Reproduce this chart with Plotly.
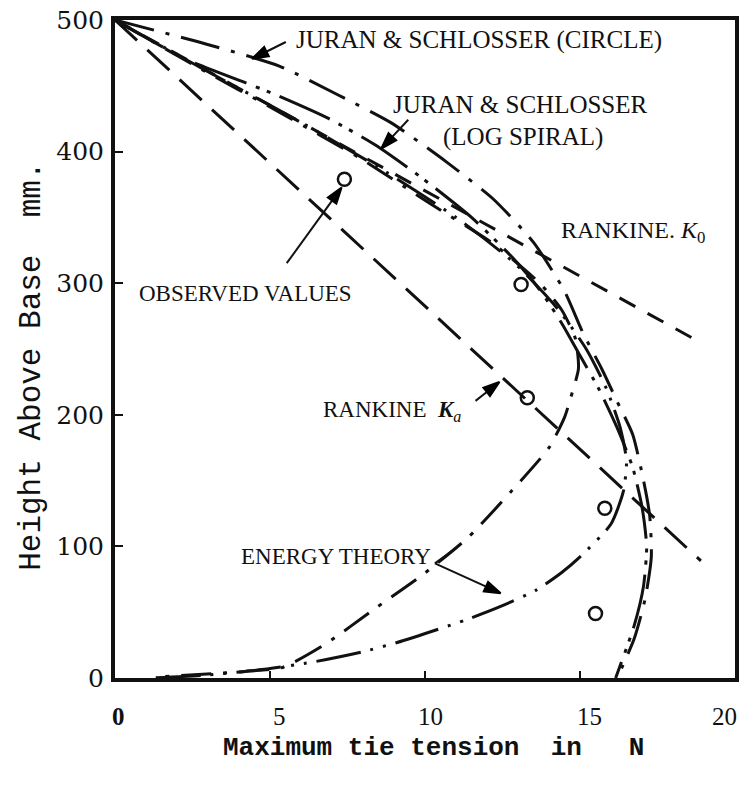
import plotly.graph_objects as go

# ---- data -------------------------------------------------------------
# Rankine lines (tension in N against height above base in mm)
ka_x = [0, 18.9]
ka_y = [500, 89]
k0_x = [0, 18.65]
k0_y = [500, 258]

# Juran & Schlosser, circular failure surface
circle_x = [0, 2.9, 5.3, 7.2, 8.9, 10.7, 12.2, 13.5, 14.5, 15.1, 15.7, 16.2, 16.7, 17.05, 17.25, 17.3, 17.1, 16.75, 16.2]
circle_y = [500, 482, 465, 443, 422, 392, 364, 331, 294, 262, 235, 210, 185, 150, 123, 92, 60, 30, 0]

# Juran & Schlosser, log-spiral failure surface
spiral_x = [0, 2.3, 5.0, 6.9, 8.4, 9.9, 11.5, 12.8, 13.7, 14.4, 15.0, 15.6, 16.2, 16.7, 17.0, 17.15, 17.05, 16.75, 16.15]
spiral_y = [500, 470, 445, 425, 405, 380, 350, 320, 295, 270, 245, 220, 190, 160, 130, 100, 70, 40, 0]

# Energy theory, two cases
energy_a_x = [0, 2.6, 5.3, 7.9, 10.2, 12.2, 13.7, 14.4, 14.85, 14.95, 14.7, 14.5, 14.0, 12.75, 11.4, 9.9, 8.4, 6.8, 5.4, 4.2, 1.5]
energy_a_y = [500, 465, 430, 395, 360, 330, 300, 280, 258, 235, 213, 198, 175, 141, 107, 78, 53, 26, 8, 5, 1]
energy_b_x = [0, 2.9, 5.8, 8.5, 11.0, 12.9, 14.3, 15.2, 15.85, 16.3, 16.5, 16.4, 16.0, 15.0, 14.4, 13.6, 12.4, 11.3, 9.1, 8.0, 6.35, 4.6, 2.8, 1.2]
energy_b_y = [500, 462, 425, 388, 350, 315, 280, 250, 220, 190, 165, 142, 117, 92, 80, 67, 54, 44, 27, 20, 12, 6, 2, 0]

# Measured maximum tie tensions
obs_x = [7.4, 13.1, 13.3, 15.8, 15.5]
obs_y = [379, 299, 213, 129, 49]

y_ticks = [0, 100, 200, 300, 400, 500]
x_ticks = [0, 5, 10, 15, 20]
x_tick_text = ["<b>0</b>", "5", "10", "15", "20"]

INK = "#111111"
SERIF = "Liberation Serif, Times New Roman, serif"
MONO = "Liberation Mono, DejaVu Sans Mono, monospace"

fig = go.Figure()


def add_curve(xs, ys, dash, width=3.0, spline=True):
    fig.add_trace(go.Scatter(
        x=xs, y=ys, mode="lines",
        line=dict(color=INK, width=width, dash=dash,
                  shape="spline" if spline else "linear", smoothing=0.6),
        hoverinfo="skip", showlegend=False, cliponaxis=True,
    ))


add_curve(ka_x, ka_y, "30px,14px", spline=False)
add_curve(k0_x, k0_y, "18px,14px", spline=False)
add_curve(circle_x, circle_y, "40px,12px,4px,12px")
add_curve(spiral_x, spiral_y, "55px,10px,4px,8px,4px,10px")
add_curve(energy_a_x, energy_a_y, "30px,12px,4px,12px")
add_curve(energy_b_x, energy_b_y, "45px,10px,3px,10px,3px,10px")

fig.add_trace(go.Scatter(
    x=obs_x, y=obs_y, mode="markers",
    marker=dict(symbol="circle-open", size=13, color=INK, line=dict(width=2.5, color=INK)),
    hoverinfo="skip", showlegend=False, cliponaxis=False,
))


def pointer(tail, tip, head=True):
    # leader line from a label to a curve, with an arrowhead at the curve end
    fig.add_trace(go.Scatter(
        x=[tail[0], tip[0]], y=[tail[1], tip[1]], mode="lines+markers",
        line=dict(color=INK, width=2),
        marker=dict(symbol="arrow", size=[0, 17 if head else 0], angleref="previous",
                    color="black", opacity=1, line=dict(width=2, color="black")),
        hoverinfo="skip", showlegend=False, cliponaxis=False,
    ))


pointer((5.51, 483.3), (4.42, 470.5))
pointer((9.46, 424.2), (8.59, 402.3))
pointer((5.54, 315.2), (7.31, 372.7))
pointer((11.63, 210.6), (12.40, 225.0))
pointer((10.32, 87.1), (12.44, 64.4))
pointer((10.32, 87.1), (10.99, 98.5), head=False)

annotations = []


def label(x, y, text, size=23):
    annotations.append(dict(x=x, y=y, xref="x", yref="y", text=text, showarrow=False,
                            xanchor="left", yanchor="middle",
                            font=dict(family=SERIF, size=size, color=INK)))


label(5.77, 485, "JURAN &amp; SCHLOSSER (CIRCLE)", size=25)
label(8.91, 436, "JURAN &amp; SCHLOSSER", size=25)
label(10.5, 411, "(LOG SPIRAL)", size=25)
label(14.33, 339, "RANKINE. <i>K</i><sub>0</sub>", size=24)
label(0.7, 292, "OBSERVED VALUES")
label(6.63, 203, "RANKINE\u00a0\u00a0<i><b>K</b></i><sub><i>a</i></sub>")
label(4.0, 92, "ENERGY THEORY")

# x tick labels
x_shift = [3, 9, 5, 9, -11]
for v, t, s in zip(x_ticks, x_tick_text, x_shift):
    annotations.append(dict(x=v, y=0, xref="x", yref="paper", text=t, showarrow=False,
                            xanchor="center", yanchor="middle", xshift=s, yshift=-38,
                            font=dict(family=SERIF, size=25, color=INK)))

# axis titles
annotations.append(dict(x=0.514, y=-0.106, xref="paper", yref="paper",
                        text="<b>Maximum tie tension\u00a0\u00a0in\u00a0\u00a0\u00a0N</b>", showarrow=False,
                        xanchor="center", yanchor="middle",
                        font=dict(family=MONO, size=26, color=INK)))
annotations.append(dict(x=-0.136, y=0.474, xref="paper", yref="paper",
                        text="Height Above Base\u00a0\u00a0mm.", showarrow=False, textangle=-90,
                        xanchor="center", yanchor="middle",
                        font=dict(family=MONO, size=31, color=INK)))

fig.update_layout(
    width=745, height=786,
    margin=dict(l=115, r=6, t=18, b=108),
    paper_bgcolor="white", plot_bgcolor="white",
    showlegend=False,
    annotations=annotations,
    xaxis=dict(range=[0, 20], showgrid=False, zeroline=False, showline=True, linewidth=4,
               linecolor=INK, mirror=True, ticks="inside", tickvals=[5, 10, 15], ticklen=7,
               tickwidth=2, tickcolor=INK, showticklabels=False, fixedrange=True),
    yaxis=dict(range=[0, 500], showgrid=False, zeroline=False, showline=True, linewidth=4,
               linecolor=INK, mirror=True, ticks="inside", tickvals=y_ticks, ticklen=8,
               tickwidth=2, tickcolor=INK, ticklabelstandoff=2,
               tickfont=dict(family="DejaVu Serif, serif", size=25, color=INK), fixedrange=True),
)

fig.write_html("out.html")
